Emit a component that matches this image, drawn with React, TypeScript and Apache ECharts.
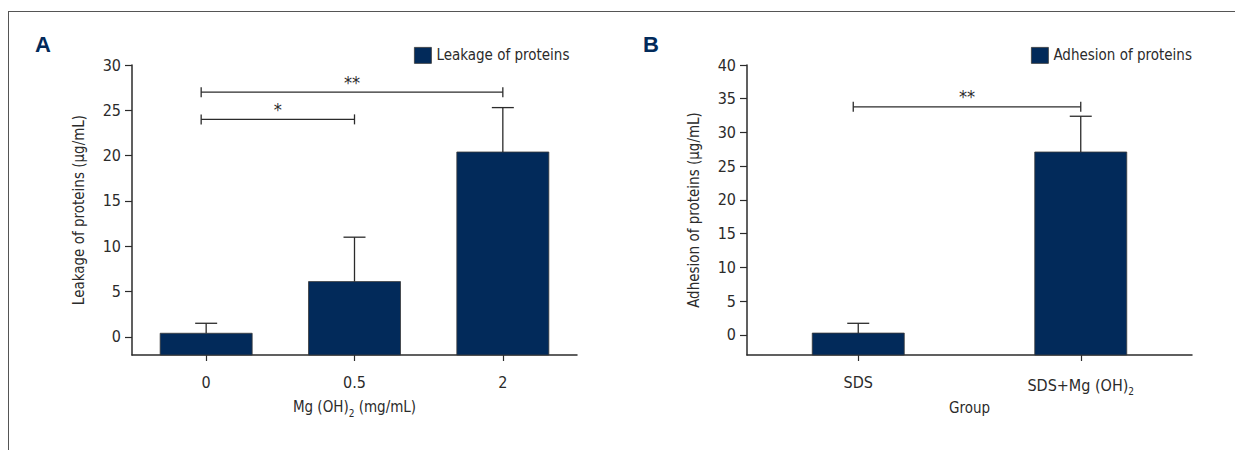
import React, { useEffect, useRef } from "react";
import * as echarts from "echarts";

const catsA = ["0", "0.5", "2"];
const leakage = [0.4, 6.1, 20.4];
const leakageErr = [1.1, 4.9, 4.9];
const ticksA = [0, 5, 10, 15, 20, 25, 30];
const bracketsA = [
  { from: 0, to: 2, y: 27, label: "**" },
  { from: 0, to: 1, y: 24, label: "*" },
];

const catsB = ["SDS", "SDS+Mg (OH)2"];
const adhesion = [0.25, 27.1];
const adhesionErr = [1.45, 5.3];
const ticksB = [0, 5, 10, 15, 20, 25, 30, 35, 40];
const bracketsB = [{ from: 0, to: 1, y: 33.8, label: "**" }];

const FONT = '"Liberation Sans Narrow", "DejaVu Sans Condensed", "Roboto", sans-serif';
const NAVY = "#022a5a";
const INK = "#2b2b2b";

function subFmt(v: string) {
  return v.replace("(OH)2", "(OH){sub|2}");
}

export default function App() {
  const ref = useRef<HTMLDivElement>(null);
  useEffect(() => {
    if (!ref.current) return;
    const chart = echarts.init(ref.current, undefined, { renderer: "svg" });

    const rich = {
      sub: { fontSize: 10, verticalAlign: "bottom", padding: [12, 0, 0, 0], fontFamily: FONT, color: INK },
    };

    const makeY = (idx: number, min: number, max: number, ticks: number[], name: string) => ({
      type: "value",
      gridIndex: idx,
      min,
      max,
      name,
      nameLocation: "middle",
      nameGap: 46,
      nameTextStyle: { fontFamily: FONT, fontSize: 15, color: INK },
      splitLine: { show: false },
      axisLine: { show: true, lineStyle: { color: INK, width: 1.5 } },
      axisTick: { show: true, length: 7, lineStyle: { color: INK, width: 1.2 }, customValues: ticks },
      axisLabel: { margin: 11, fontFamily: FONT, fontSize: 16, color: INK, customValues: ticks },
    });

    const makeX = (idx: number, cats: string[], name: string) => ({
      type: "category",
      gridIndex: idx,
      data: cats,
      name,
      nameLocation: "middle",
      nameGap: 41,
      nameTextStyle: { fontFamily: FONT, fontSize: 15, color: INK, rich },
      axisLine: { show: true, onZero: false, lineStyle: { color: INK, width: 1.5 } },
      axisTick: { show: true, alignWithLabel: true, length: 6, lineStyle: { color: INK, width: 1.2 } },
      axisLabel: { margin: 19, fontFamily: FONT, fontSize: 16, color: INK, formatter: subFmt, rich },
    });

    const barSeries = (idx: number, name: string, vals: number[], min: number) => ({
      type: "custom",
      name,
      xAxisIndex: idx,
      yAxisIndex: idx,
      z: 3,
      itemStyle: { color: NAVY },
      data: vals.map((v, i) => [i, v]),
      renderItem: (params: any, api: any) => {
        const top = api.coord([api.value(0), api.value(1)]);
        const bot = api.coord([api.value(0), min]);
        const w = 92;
        return {
          type: "rect",
          shape: { x: top[0] - w / 2, y: top[1], width: w, height: bot[1] - top[1] },
          style: { fill: NAVY, stroke: "#3a3a3a", lineWidth: 0.8 },
        };
      },
    });

    const errSeries = (idx: number, vals: number[], errs: number[]) => ({
      type: "custom",
      xAxisIndex: idx,
      yAxisIndex: idx,
      z: 5,
      silent: true,
      data: vals.map((v, i) => [i, v, v + errs[i]]),
      renderItem: (params: any, api: any) => {
        const p0 = api.coord([api.value(0), api.value(1)]);
        const p1 = api.coord([api.value(0), api.value(2)]);
        const st = { stroke: INK, lineWidth: 1.3 };
        return {
          type: "group",
          children: [
            { type: "line", shape: { x1: p0[0], y1: p0[1], x2: p1[0], y2: p1[1] }, style: st },
            { type: "line", shape: { x1: p1[0] - 11, y1: p1[1], x2: p1[0] + 11, y2: p1[1] }, style: st },
          ],
        };
      },
    });

    const bracketSeries = (idx: number, br: { from: number; to: number; y: number; label: string }[]) => ({
      type: "custom",
      xAxisIndex: idx,
      yAxisIndex: idx,
      z: 5,
      silent: true,
      data: br.map((b) => [b.from, b.to, b.y]),
      renderItem: (params: any, api: any) => {
        const a = api.coord([api.value(0), api.value(2)]);
        const b = api.coord([api.value(1), api.value(2)]);
        const x1 = a[0] - 5;
        const x2 = b[0];
        const y = a[1];
        const st = { stroke: INK, lineWidth: 1.3 };
        return {
          type: "group",
          children: [
            { type: "line", shape: { x1, y1: y, x2, y2: y }, style: st },
            { type: "line", shape: { x1, y1: y - 5, x2: x1, y2: y + 5 }, style: st },
            { type: "line", shape: { x1: x2, y1: y - 5, x2, y2: y + 5 }, style: st },
            {
              type: "text",
              x: (x1 + x2) / 2,
              y: y - 1,
              style: {
                text: br[params.dataIndex].label,
                fontFamily: FONT,
                fontSize: 18,
                fill: INK,
                textAlign: "center",
                textVerticalAlign: "bottom",
              },
            },
          ],
        };
      },
    });

    const legendCommon = {
      itemWidth: 17,
      itemHeight: 16,
      itemGap: 6,
      padding: 0,
      icon: "rect",
      itemStyle: { borderColor: "#3a3a3a", borderWidth: 0.8 },
      textStyle: { fontFamily: FONT, fontSize: 15, color: INK },
    };

    chart.setOption({
      animation: false,
      backgroundColor: "#ffffff",
      grid: [
        { left: 132, top: 65, width: 445, height: 290 },
        { left: 747, top: 65, width: 445, height: 290 },
      ],
      legend: [
        { ...legendCommon, data: ["Leakage of proteins"], left: 414, top: 47 },
        { ...legendCommon, data: ["Adhesion of proteins"], left: 1031, top: 47 },
      ],
      xAxis: [makeX(0, catsA, "Mg (OH){sub|2} (mg/mL)"), makeX(1, catsB, "Group")],
      yAxis: [
        makeY(0, -2, 30, ticksA, "Leakage of proteins (μg/mL)"),
        makeY(1, -3, 40, ticksB, "Adhesion of proteins (μg/mL)"),
      ],
      series: [
        barSeries(0, "Leakage of proteins", leakage, -2),
        barSeries(1, "Adhesion of proteins", adhesion, -3),
        errSeries(0, leakage, leakageErr),
        errSeries(1, adhesion, adhesionErr),
        bracketSeries(0, bracketsA),
        bracketSeries(1, bracketsB),
      ],
      graphic: [
        { type: "line", shape: { x1: 8, y1: 11.5, x2: 1235, y2: 11.5 }, style: { stroke: "#555", lineWidth: 1 } },
        { type: "line", shape: { x1: 8.5, y1: 11, x2: 8.5, y2: 450 }, style: { stroke: "#555", lineWidth: 1 } },
        {
          type: "text",
          left: 35,
          top: 33,
          style: { text: "A", fontFamily: '"Liberation Sans", Arial, sans-serif', fontWeight: "bold", fontSize: 22, fill: NAVY },
        },
        {
          type: "text",
          left: 643,
          top: 33,
          style: { text: "B", fontFamily: '"Liberation Sans", Arial, sans-serif', fontWeight: "bold", fontSize: 22, fill: NAVY },
        },
      ],
    });
    return () => chart.dispose();
  }, []);
  return <div ref={ref} style={{ position: "absolute", left: 0, top: 0, width: 1235, height: 450 }} />;
}
